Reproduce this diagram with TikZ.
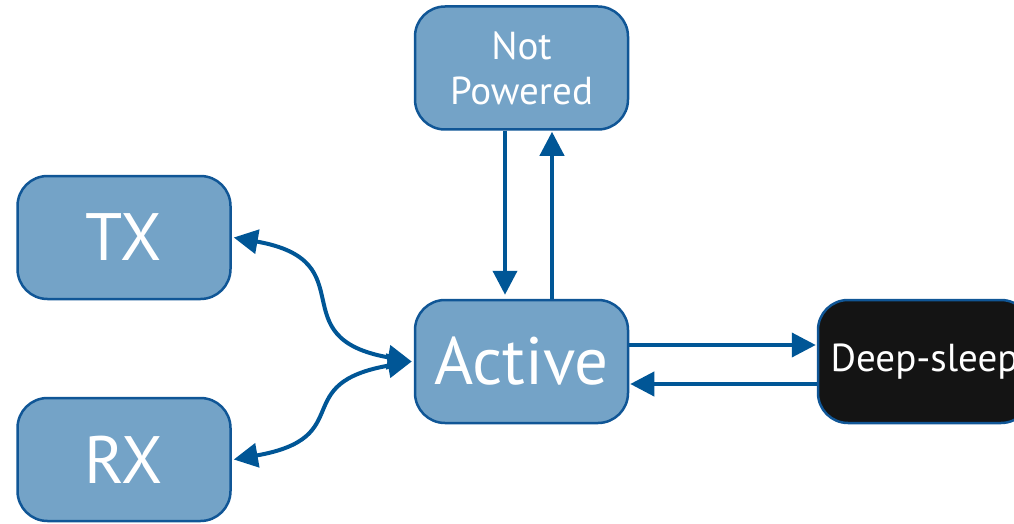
\documentclass[tikz,border=0pt]{standalone}
\usepackage{fontspec}
\setmainfont{PT Sans}
\usetikzlibrary{arrows.meta}
\definecolor{statefill}{RGB}{116,163,199}
\definecolor{stateline}{RGB}{16,86,150}
\definecolor{flow}{RGB}{0,86,150}
\definecolor{sleepfill}{RGB}{20,20,20}
\tikzset{
  state/.style={draw=stateline, line width=2.5pt, fill=statefill, rounded corners=30pt,
    minimum width=213pt, minimum height=123pt, inner sep=0pt, text=white, align=center},
  bigtext/.style={font=\fontsize{67}{70}\selectfont},
  smalltext/.style={font=\fontsize{39}{45}\selectfont},
  flowarrow/.style={draw=flow, line width=4pt, -{Triangle[length=24pt,width=24pt]}},
  bothways/.style={draw=flow, line width=4pt,
    {Triangle[length=24pt,width=24pt]}-{Triangle[length=24pt,width=24pt]}}
}
\begin{document}
\begin{tikzpicture}[x=1pt,y=-1pt]
  \clip (0,0) rectangle (1014,524);
  \node[state, smalltext] (np) at (521.5,68) {Not\\Powered};
  \node[state, bigtext] (tx) at (124,237.5) {TX};
  \node[state, bigtext] (rx) at (124,459.5) {RX};
  \node[state, bigtext] (act) at (521.5,361.5) {Active};
  \node[state, smalltext, fill=sleepfill] (ds) at (924.5,361.5) {Deep-sleep};

  % power transitions
  \draw[flowarrow] ([xshift=-16.5pt]np.south) -- ([xshift=-16.5pt,yshift=4pt]act.north);
  \draw[flowarrow] ([xshift=30.5pt]act.north) -- ([xshift=30.5pt,yshift=-1pt]np.south);
  % sleep transitions
  \draw[flowarrow] ([yshift=16.5pt]act.east) -- ([yshift=16.5pt,xshift=-1pt]ds.west);
  \draw[flowarrow] ([yshift=-22.5pt]ds.west) -- ([yshift=-22.5pt,xshift=1pt]act.east);
  % radio transitions
  \draw[bothways] ([xshift=2pt]tx.east) to[out=-10,in=170,looseness=1.6] ([xshift=-2pt]act.west);
  \draw[bothways] ([xshift=2pt]rx.east) to[out=10,in=190,looseness=1.6] ([xshift=-2pt]act.west);
\end{tikzpicture}
\end{document}
